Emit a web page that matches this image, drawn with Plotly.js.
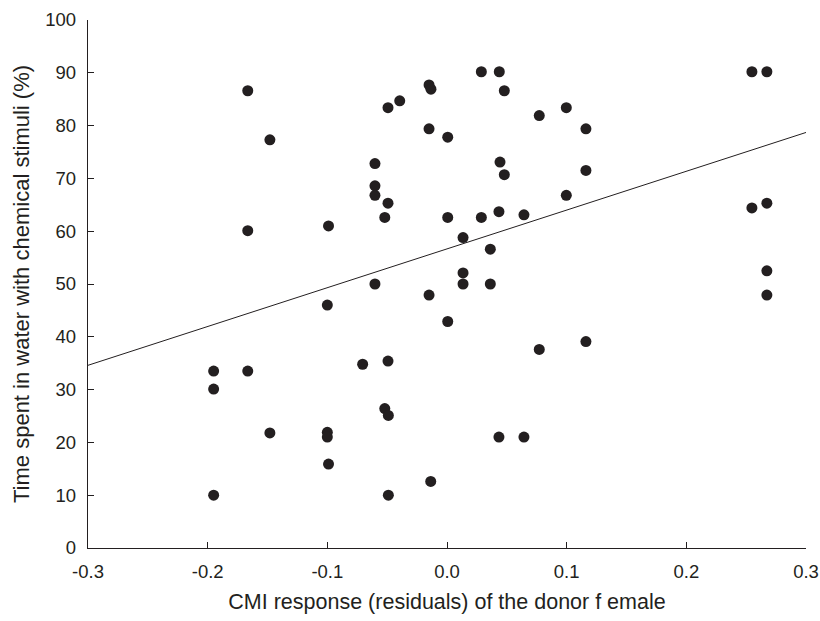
<!DOCTYPE html>
<html>
<head>
<meta charset="utf-8">
<script src="https://cdn.plot.ly/plotly-3.0.1.min.js"></script>
<style>html,body{margin:0;padding:0;background:#fff;}#chart{width:820px;height:621px;}</style>
</head>
<body>
<div id="chart"></div>
<script>
const cmiResidual = [
  -0.1665, -0.148, -0.1665, -0.099, -0.100, -0.195, -0.1665, -0.195, -0.148, -0.100,
  -0.100, -0.099, -0.195, 0.0287, 0.0437, 0.0479, -0.015, -0.0134, -0.0493, -0.0395,
  -0.015, 0.0006, 0.0771, 0.0997, -0.0602, 0.0443, 0.0479, -0.0602, -0.0602, -0.0493,
  -0.052, 0.0006, 0.0287, 0.0434, 0.0643, 0.0997, 0.0134, 0.0362, 0.0134, 0.0134,
  0.0362, -0.0602, -0.015, 0.0006, 0.0771, -0.0705, -0.0493, -0.052, -0.049, 0.0434,
  0.0643, -0.0136, -0.049, 0.1161, 0.1161, 0.2548, 0.2673, 0.2548, 0.2673, 0.2673,
  0.1161, 0.2673
];
const timeInStimuli = [
  86.6, 77.3, 60.1, 61.0, 46.0, 33.5, 33.5, 30.1, 21.8, 21.9,
  21.0, 15.9, 10.0, 90.2, 90.2, 86.6, 87.7, 86.9, 83.4, 84.7,
  79.4, 77.8, 81.9, 83.4, 72.8, 73.1, 70.7, 68.6, 66.8, 65.3,
  62.6, 62.6, 62.6, 63.7, 63.1, 66.8, 58.8, 56.6, 52.1, 50.0,
  50.0, 50.0, 47.9, 42.9, 37.6, 34.8, 35.4, 26.4, 25.1, 21.0,
  21.0, 12.6, 10.0, 79.4, 71.5, 90.2, 90.2, 64.4, 65.3, 52.5,
  39.1, 47.9
];
const fitX = [-0.3, 0.3];
const fitY = [34.6, 78.7];
const xTicks = [-0.3, -0.2, -0.1, 0.0, 0.1, 0.2, 0.3];
const xTickLabels = ["-0.3", "-0.2", "-0.1", "0.0", "0.1", "0.2", "0.3"];
const yTicks = [0, 10, 20, 30, 40, 50, 60, 70, 80, 90, 100];

const font = "Liberation Sans, Arial, sans-serif";
const ink = "#231f20";
const data = [
  {
    x: fitX, y: fitY, type: "scatter", mode: "lines",
    line: {color: ink, width: 1}, hoverinfo: "skip", showlegend: false, cliponaxis: false
  },
  {
    x: cmiResidual, y: timeInStimuli, type: "scatter", mode: "markers",
    marker: {color: ink, size: 11, line: {width: 0}}, showlegend: false, cliponaxis: false
  }
];
const layout = {
  width: 820, height: 621,
  margin: {l: 88, r: 14, t: 20, b: 73},
  paper_bgcolor: "#ffffff", plot_bgcolor: "#ffffff",
  font: {family: font, color: ink, size: 18},
  xaxis: {
    range: [-0.3, 0.3], tickvals: xTicks, ticktext: xTickLabels,
    ticks: "inside", ticklen: 6, tickcolor: ink, tickwidth: 1,
    showline: true, linecolor: ink, linewidth: 1.3,
    showgrid: false, zeroline: false, automargin: false,
    ticklabelstandoff: 6,
    tickfont: {family: font, size: 18.5, color: ink},
    title: {text: "CMI response (residuals) of the donor f emale", font: {family: font, size: 21.5, color: ink}, standoff: 13}
  },
  yaxis: {
    range: [0, 100], tickvals: yTicks,
    ticks: "inside", ticklen: 6, tickcolor: ink, tickwidth: 1,
    showline: true, linecolor: ink, linewidth: 1.3,
    showgrid: false, zeroline: false, automargin: false,
    ticklabelstandoff: 7,
    tickfont: {family: font, size: 18.5, color: ink},
    title: {text: "Time spent in water with chemical stimuli (%)", font: {family: font, size: 22, color: ink}, standoff: 9}
  }
};
Plotly.newPlot("chart", data, layout, {displayModeBar: false, staticPlot: true});
</script>
</body>
</html>
